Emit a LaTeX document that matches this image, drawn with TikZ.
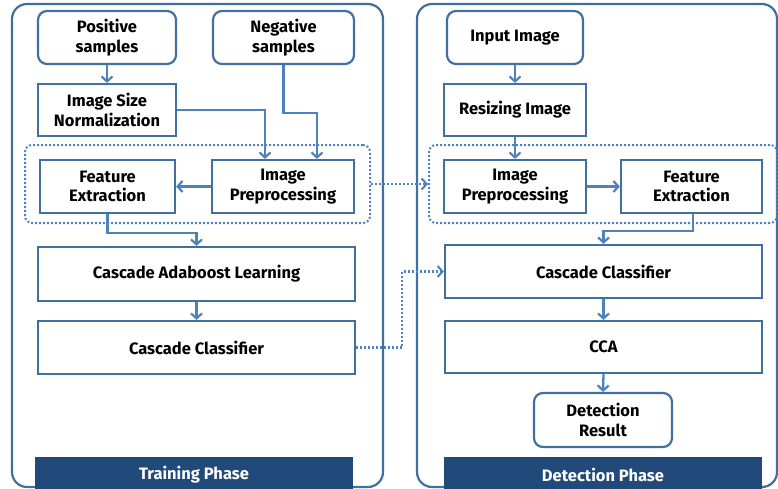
\documentclass[tikz,border=0pt]{standalone}
\usepackage{fontspec}
\setmainfont{Fira Sans}
\usetikzlibrary{arrows.meta,calc}
\definecolor{bord}{HTML}{41709F}
\definecolor{arrc}{HTML}{4F81BD}
\definecolor{barc}{HTML}{21497A}
\begin{document}
\begin{tikzpicture}[x=1pt,y=-1pt,
  box/.style={draw=bord,line width=2.2pt,fill=white,align=center,font=\fontsize{16.5}{19.5}\selectfont\bfseries,inner sep=0pt},
  rbox/.style={box,rounded corners=9pt},
  panel/.style={draw=bord,line width=2.2pt,rounded corners=15pt},
  grp/.style={draw=arrc,line width=2pt,dash pattern=on 2pt off 2pt,rounded corners=7pt},
  arr/.style={draw=arrc,line width=2.3pt,-{Straight Barb[length=5pt,width=11pt,line width=2.2pt]}},
  darr/.style={draw=arrc,line width=2.2pt,dash pattern=on 2pt off 2pt,-{Straight Barb[length=5pt,width=11pt,line width=2pt]}},
  bartext/.style={text=white,font=\fontsize{16.5}{18}\selectfont\bfseries}]
\useasboundingbox (0,0) rectangle (778,488);
\begin{scope}
\clip (0,0) rectangle (778,488);
% panels
\draw[panel] (12,4) rectangle (383,487);
\draw[panel] (417,4) rectangle (777,487);
% groups
\node[grp,minimum width=345pt,minimum height=78pt,inner sep=0pt] (grpL) at (197.5,184) {};
\node[grp,minimum width=348pt,minimum height=78pt,inner sep=0pt] (grpR) at (603,184) {};
% bars
\fill[barc] (35,457) rectangle (353,493);
\node[bartext] (trn) at (194,475) {Training Phase};
\fill[barc] (444,457) rectangle (762,493);
\node[bartext] (det) at (603,475) {Detection Phase};
\end{scope}
% left nodes
\node[rbox,minimum width=138pt,minimum height=53pt] (pos) at (107,37.5) {Positive\\samples};
\node[rbox,minimum width=141pt,minimum height=53pt] (neg) at (283.5,37.5) {Negative\\samples};
\node[box,minimum width=138pt,minimum height=52pt] (isn) at (107,110) {Image Size\\Normalization};
\node[box,minimum width=135pt,minimum height=53pt] (feL) at (107.5,186.5) {Feature\\Extraction};
\node[box,minimum width=142pt,minimum height=53pt] (ipL) at (283,186.5) {Image\\Preprocessing};
\node[box,minimum width=317pt,minimum height=54pt] (cal) at (196.5,274) {Cascade Adaboost Learning};
\node[box,minimum width=317pt,minimum height=53pt] (ccL) at (196.5,347.5) {Cascade Classifier};
% right nodes
\node[rbox,minimum width=136pt,minimum height=53pt] (inp) at (515,37.5) {Input Image};
\node[box,minimum width=142pt,minimum height=52pt] (rsz) at (515,110) {Resizing Image};
\node[box,minimum width=142pt,minimum height=53pt] (ipR) at (515,186.5) {Image\\Preprocessing};
\node[box,minimum width=141pt,minimum height=53pt] (feR) at (691.5,186.5) {Feature\\Extraction};
\node[box,minimum width=317pt,minimum height=53pt] (ccR) at (603.5,271.5) {Cascade Classifier};
\node[box,minimum width=317pt,minimum height=52pt] (cca) at (603.5,347) {CCA};
\node[rbox,minimum width=138pt,minimum height=54pt] (dr) at (603,420) {Detection\\Result};
% left connectors
\draw[arr] (pos.south) -- (isn.north);
\draw[arr] (isn.east) -| ([xshift=-18pt]ipL.north);
\draw[arr] (neg.south) -- ++(0,48) -| ([xshift=34pt]ipL.north);
\draw[arr] (ipL.west) -- (feL.east);
\draw[arr] (feL.south) -- ++(0,19) -| (cal.north);
\draw[arr] (cal.south) -- (ccL.north);
% right connectors
\draw[arr] (inp.south) -- (rsz.north);
\draw[arr] (rsz.south) -- (ipR.north);
\draw[arr] (ipR.east) -- (feR.west);
\draw[arr] ([xshift=1.5pt]feR.south) -- ++(0,17) -| (ccR.north);
\draw[arr] (ccR.south) -- (cca.north);
\draw[arr] (cca.south) -- (dr.north);
% dotted cross connectors
\draw[darr] (grpL.east) -- (grpR.west);
\draw[darr] (ccL.east) -- ++(46,0) |- (ccR.west);
\end{tikzpicture}
\end{document}
